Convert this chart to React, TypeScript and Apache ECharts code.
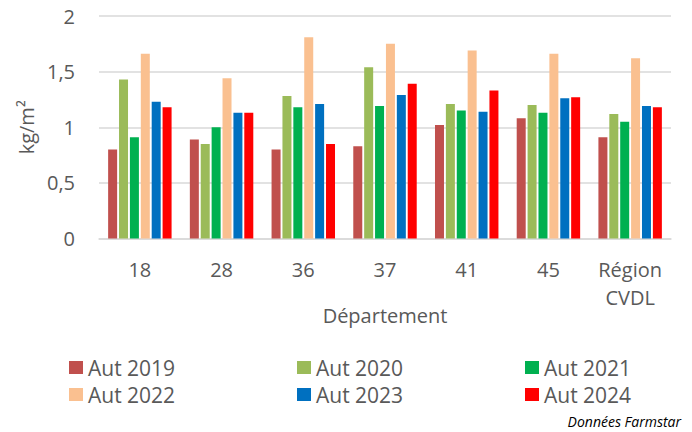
import React, { useEffect, useRef } from "react";
import * as echarts from "echarts";

const categories = ["18", "28", "36", "37", "41", "45", "Région\nCVDL"];
const seriesNames = ["Aut 2019", "Aut 2020", "Aut 2021", "Aut 2022", "Aut 2023", "Aut 2024"];
const aut2019 = [0.8, 0.89, 0.8, 0.83, 1.02, 1.08, 0.91];
const aut2020 = [1.43, 0.85, 1.28, 1.54, 1.21, 1.2, 1.12];
const aut2021 = [0.91, 1.0, 1.18, 1.19, 1.15, 1.13, 1.05];
const aut2022 = [1.66, 1.44, 1.81, 1.75, 1.69, 1.66, 1.62];
const aut2023 = [1.23, 1.13, 1.21, 1.29, 1.14, 1.26, 1.19];
const aut2024 = [1.18, 1.13, 0.85, 1.39, 1.33, 1.27, 1.18];
const seriesValues = [aut2019, aut2020, aut2021, aut2022, aut2023, aut2024];
const colors = ["#C0504D", "#9BBB59", "#00B050", "#FAC090", "#0070C0", "#FF0000"];

const FONT = "'Open Sans', sans-serif";
const TXT = "#595959";
const GRID = "#d9d9d9";

export default function App() {
  const ref = useRef<HTMLDivElement>(null);
  useEffect(() => {
    if (!ref.current) return;
    const chart = echarts.init(ref.current, undefined, { renderer: "svg" });
    const legendCol = (names: string[], left: number) => ({
      orient: "vertical",
      left,
      top: 357,
      padding: 0,
      itemWidth: 14,
      itemHeight: 13,
      itemGap: 6,
      icon: "rect",
      data: names,
      textStyle: { fontFamily: FONT, fontSize: 21, color: TXT },
    });
    chart.setOption({
      animation: false,
      textStyle: { fontFamily: FONT },
      grid: { left: 99, right: 21, top: 16, bottom: 193.5 },
      legend: [
        legendCol([seriesNames[0], seriesNames[3]], 69),
        legendCol([seriesNames[1], seriesNames[4]], 297),
        legendCol([seriesNames[2], seriesNames[5]], 525),
      ],
      xAxis: {
        type: "category",
        data: categories,
        name: "Département",
        nameLocation: "middle",
        nameGap: 67,
        nameMoveOverlap: false,
        nameTextStyle: { fontFamily: FONT, fontSize: 20, color: TXT },
        axisTick: { show: false },
        axisLine: { lineStyle: { color: GRID, width: 1.5 } },
        axisLabel: {
          fontFamily: FONT,
          fontSize: 20,
          color: TXT,
          margin: 17,
          lineHeight: 28,
          interval: 0,
        },
      },
      yAxis: {
        type: "value",
        min: 0,
        max: 2,
        interval: 0.5,
        name: "kg/m²",
        nameLocation: "middle",
        nameGap: 62,
        nameTextStyle: { fontFamily: FONT, fontSize: 20, color: TXT },
        axisLine: { show: false },
        axisTick: { show: false },
        splitLine: { lineStyle: { color: GRID, width: 1.5 } },
        axisLabel: {
          fontFamily: FONT,
          fontSize: 20,
          color: TXT,
          margin: 24,
          formatter: (v: number) => String(v).replace(".", ","),
        },
      },
      series: seriesNames.map((name, i) => ({
        name,
        type: "bar",
        data: seriesValues[i],
        barWidth: 9,
        barGap: "21%",
        itemStyle: { color: colors[i] },
      })),
      graphic: [
        {
          type: "text",
          right: 11,
          top: 414,
          style: {
            text: "Données Farmstar",
            fontFamily: FONT,
            fontSize: 14,
            fontStyle: "italic",
            fill: "#000",
          },
        },
      ],
    });
    return () => chart.dispose();
  }, []);
  return (
    <div
      ref={ref}
      style={{ position: "absolute", left: 0, top: 0, width: 692, height: 432, background: "#fff" }}
    />
  );
}
